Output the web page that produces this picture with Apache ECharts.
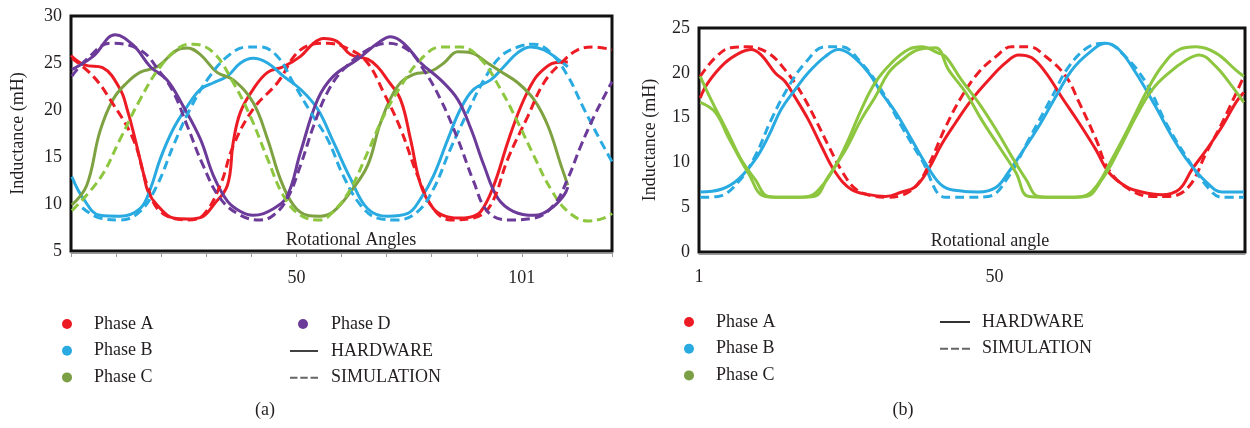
<!DOCTYPE html>
<html>
<head>
<meta charset="utf-8">
<title>Inductance profiles</title>
<script src="https://cdn.jsdelivr.net/npm/echarts@6.0.0/dist/echarts.min.js"></script>
<style>
  html, body { margin: 0; padding: 0; background: #fff; }
  #charts { width: 1250px; height: 428px; }
</style>
</head>
<body>
<div id="charts"></div>
<script>
// ---- panel (a): 4-phase machine, [angle, inductance mH] ----
var xTicksA = [0, 120, 10];               // min, max, interval
var xLabelsA = { 50: '50', 100: '101' };  // tick value -> shown label
var yTicksA = [5, 30, 5];

var phaseA_hw_a = [[0,25.8],[3,24.8],[7,24.5],[10.9,22.2],[12.5,20],[13.8,17.7],[16,13.4],[17.1,11.3],[19.1,9.9],[22.7,8.5],[26,8.4],[29,8.6],[31.6,9.9],[34.7,12],[36,16.6],[37.6,19.8],[40.4,22.2],[43.6,24],[47.1,24.6],[50.9,25.7],[53.8,27.1],[56,27.6],[59,27.3],[62,25.9],[65.8,25.4],[68,24.6],[70.2,23.2],[73.1,21.1],[75.3,16.9],[77.6,12],[80.4,9.5],[83,8.7],[85.8,8.5],[88.5,8.6],[90.9,9.2],[93.8,12],[96.9,16.6],[99.8,20.4],[102.7,23.2],[105,24.4],[107.1,25],[110.2,25.1]];
var phaseA_sim_a = [[0.2,25.5],[4.9,23.6],[8.7,21.1],[13.8,16.9],[16.9,12],[19.8,9.2],[25.8,8.3],[29.3,8.8],[33.1,12],[36,16.2],[40.4,20.1],[45.8,22.9],[50.9,26.4],[56.9,27.1],[62,26.4],[65.8,25],[69.3,21.9],[73.1,18],[76.9,13],[80.4,9.5],[84.2,8.3],[89.3,8.5],[93.1,9.9],[96.9,14.8],[101.3,19.3],[104.9,22.9],[108.7,25],[112.4,26.4],[116,26.7],[120,26.4]];
var phaseB_hw_a = [[0.2,12.9],[2.7,10.6],[6.4,8.8],[10.9,8.7],[15.3,9.5],[17.6,11.6],[19.8,14.8],[22.7,18],[25.8,20.4],[28.7,22.2],[31.6,22.9],[34.7,23.6],[37.6,25],[40.4,25.5],[43.6,25],[47.1,23.6],[50.9,22.2],[54.7,20.1],[58.2,16.6],[62,12.7],[65.8,9.5],[70.2,8.7],[74.7,9],[77.6,10.6],[80.4,13],[83.6,16.9],[86.4,20.1],[89.3,22.2],[93.1,23.2],[96,24.6],[99.1,26.1],[102,26.7],[104.9,26.4],[108,25.4],[110.2,24.6]];
var phaseB_sim_a = [[2.5,9.6],[6.4,8.5],[10.9,8.3],[15.3,9.2],[19.1,12],[22.7,16.2],[26.4,20.1],[30.2,23.2],[34.7,25.7],[39.1,26.7],[42,26.7],[45.8,25.7],[49.3,22.9],[53.1,19.8],[56.9,16.9],[60.4,13],[64.2,9.9],[68,8.5],[72.4,8.3],[76.9,9.2],[80.4,11.6],[84.2,15.9],[88,19.8],[91.6,23.2],[95.3,25.7],[99.1,26.7],[102.7,27],[106.4,26.1],[110.2,23.6],[113.8,20.1],[117.6,16.6],[120,14.5]];
var phaseC_hw_a = [[0.2,9.9],[3.5,12],[6.4,17.7],[9.3,21.1],[12.4,22.9],[15.3,24],[19.1,24.6],[23.6,26.4],[25.8,26.6],[28.7,25.9],[32.4,24],[36,23.2],[40.4,20.8],[43.6,16.9],[46.4,12.7],[49.3,9.9],[52.4,8.8],[55.3,8.7],[58.2,9.2],[62,11.3],[65.8,14.1],[68.7,18.7],[72.4,22.5],[76,23.8],[79.8,24.1],[82.7,25],[85.8,26.2],[88.7,26.1],[92.4,25],[95.3,24.1],[99.1,22.9],[102.7,21.1],[105.8,18.3],[108.7,14.1],[110.2,12]];
var phaseC_sim_a = [[0.2,9.3],[6.4,12.7],[10.9,16.9],[15.3,21.1],[19.8,24.6],[24.2,26.7],[27.1,27],[31.6,26.1],[36,22.9],[39.8,19.3],[43.6,14.8],[47.1,10.9],[50.9,8.8],[55.3,8.3],[58.2,9.2],[62,11.6],[65.8,15.5],[69.3,19.3],[73.1,22.5],[77.6,25.4],[82,26.7],[86.4,26.7],[90.9,25.4],[95.3,22.2],[99.1,18.7],[102.7,15.1],[106.4,11.6],[110.2,9.2],[114.7,8.2],[118.2,8.5],[120,9]];
var phaseD_hw_a = [[0.2,24.3],[4.9,25.7],[9.8,28],[13.8,26.9],[17.6,24.6],[21.3,23.2],[24.9,20.4],[28.7,16.9],[31.6,13],[34.7,10.3],[37.6,9.2],[40.4,8.8],[44.9,9.5],[48,10.9],[50.9,15.5],[54.7,21.1],[58.2,23.6],[63.6,25.4],[68,27.1],[70.9,27.8],[73.8,27.1],[77.6,25],[82,23.2],[85.8,21.1],[88.7,18],[91.6,14.1],[94.7,10.6],[98.2,9.2],[102.7,8.8],[106.4,9.5],[109.3,10.9],[110.2,11.8]];
var phaseD_sim_a = [[0.2,23.6],[3.5,25.4],[8.7,27.1],[15.3,26.4],[19.8,24],[22.7,21.9],[25.8,18.3],[29.3,14.1],[33.1,10.6],[37.6,8.8],[42,8.3],[44.9,8.8],[48,10.6],[50.9,14.1],[53.8,18.3],[56.9,21.9],[60.4,24.3],[65.8,26.4],[70.2,27.1],[74.7,26.4],[78.2,24.3],[82,21.1],[85.8,16.9],[89.3,12.4],[92.4,9.2],[96.9,8.3],[102.7,8.5],[107.1,9.9],[110.2,12.7],[113.1,16.2],[116,19.3],[119.1,22.2],[120,23]];

// ---- panel (b): 3-phase machine ----
var xRangeB = [1, 91.5];
var xLabelsB = [1, 50];
var yTicksB = [0, 25, 5];

var phaseA_hw_b = [[1.2,17.2],[2.5,18.9],[5.3,21.1],[8,22.3],[9.6,22.6],[11.3,22],[13.6,20],[15.3,19],[16.9,17.3],[19.1,14.8],[21.3,11.8],[23.6,8.9],[26.2,7],[29.1,6.4],[31.9,6.2],[34.6,6.7],[36.9,7.3],[39,9.2],[41.2,12],[43.5,14.4],[46.2,17],[49,19.2],[51.8,21.1],[54,22],[56.1,21.7],[58.5,20],[61.1,17.3],[64,14.4],[66.8,11.4],[68.9,8.9],[71.8,7.3],[74.4,6.7],[77.7,6.4],[80.6,7],[82.7,9.2],[85.1,11.4],[87.7,14],[90,16.7],[91.3,17.8]];
var phaseA_sim_b = [[1.2,19.6],[3.7,21.7],[6.3,22.8],[9.1,22.9],[12.5,22.2],[15.3,20.3],[17.9,17.8],[20.3,14.8],[22.5,11.8],[24.8,8.9],[27,7],[29.5,6.3],[32,6.1],[34.5,6.3],[37,7.4],[39,9.6],[41.9,14],[44.5,17.3],[47.3,20],[50.2,21.8],[52.8,22.9],[55.7,22.9],[58.5,21.8],[61.8,19.6],[64,16.7],[66.8,12.6],[68.9,9.2],[72.3,7],[76.1,6.2],[78.9,6.2],[82.2,7.3],[85.1,11.1],[87.7,14.4],[91.3,19.6]];
var phaseB_hw_b = [[1.2,6.7],[4.7,7],[7.5,8.1],[10.3,10.3],[12.5,12.9],[14.6,15.9],[16.9,18.1],[19.1,20],[21.9,21.8],[24.1,22.6],[26.2,22],[29.1,20],[31.2,17.8],[33.6,15.6],[36.2,12.6],[39,9.4],[41.5,7.3],[44.5,6.8],[47.3,6.7],[50.2,7.2],[52.3,8.9],[54.5,11.1],[57.3,14],[60.1,17.3],[62.8,20.3],[65.6,22.2],[68.4,23.3],[70.6,22.6],[73.4,20],[76.7,16.2],[79.4,12.9],[82.2,10],[85.1,7.8],[87.7,6.7],[91.3,6.7]];
var phaseB_sim_b = [[1.2,6.1],[4.2,6.2],[7.5,7.8],[10.3,10.7],[13,14.8],[15.8,18.4],[18.6,21.1],[21.9,22.9],[24.6,22.9],[27.9,21.1],[31.2,18.1],[34.6,14],[37.9,10.3],[41.9,6.1],[45.7,6.1],[49,6.2],[52.3,8.4],[55.7,12.6],[59.5,17.3],[62.3,20.7],[65.6,22.9],[68.4,23.3],[71.1,22.2],[75.1,18.9],[78.4,14.4],[81.7,10.7],[85.6,7],[87.7,6.1],[91.3,6.1]];
var phaseC_hw_b = [[1.2,16.7],[3.7,15.6],[5.8,12.9],[9.1,8.9],[12,6.2],[16,6.1],[20,6.2],[22.4,8.4],[25.3,11.4],[27.9,14.8],[30.2,17.3],[32.4,20],[34.6,21.4],[37.4,22.6],[40.2,22.8],[42.4,20.3],[45.2,17.8],[47.8,14.8],[50.7,11.8],[53.5,8.9],[55.7,6.2],[61.1,6.1],[65.1,6.2],[67.8,8.1],[70.6,11.4],[73.4,15.1],[76.1,18.1],[78.9,20],[81.7,21.4],[83.9,22],[86.7,20.7],[88.9,18.9],[91.3,16.7]];
var phaseC_sim_b = [[1.2,19.6],[3,17],[5.8,13.3],[8,10.3],[10.3,8.1],[12.5,6.2],[15.8,6.1],[19.1,6.2],[21.3,7.3],[23.6,9.6],[25.8,12.6],[27.9,15.9],[30.2,18.9],[32.9,21.1],[35.7,22.6],[37.9,22.9],[40.7,22.2],[41.9,21.8],[44.5,19.2],[47.3,16.7],[50.2,13.7],[52.8,10.7],[55.2,8.1],[57.3,6.2],[61.1,6.1],[64.5,6.2],[66.8,7.3],[69.4,10.3],[72.3,14],[75.1,17.8],[77.7,20.7],[80.6,22.6],[83.4,22.9],[86.7,22.2],[90,20.3],[91.3,19.6]];

var FONT = '"Liberation Serif", "DejaVu Serif", serif';
var TXT = '#231f20';
var RED = '#ed1c24', BLUE = '#29abe2', PURPLE = '#6c3a99';
var OLIVE = '#7ea241', LIME = '#8dc63f';

var ICON_SOLID = 'path://M0,0h30v2h-30z';
var ICON_DASH = 'path://M0,0h8v2h-8zM11,0h8v2h-8zM22,0h8v2h-8z';

// one curve
function curve(name, data, color, dashed, idx){
	return {
		name: name,
		type: 'line',
		xAxisIndex: idx,
		yAxisIndex: idx,
		data: data,
		smooth: 0.4,
		showSymbol: false,
		silent: true,
		lineStyle: { color: color, width: 3, type: dashed ? [9, 5] : 'solid' },
		itemStyle: { color: color }
	};
}

function yAxisCfg(idx, t){
	return {
		gridIndex: idx, type: 'value', min: t[0], max: t[1], interval: t[2],
		name: 'Inductance (mH)', nameLocation: 'middle', nameGap: idx === 0 ? 44 : 40,
		nameTextStyle: { fontFamily: FONT, fontSize: 18, color: TXT },
		axisLine: { show: false }, axisTick: { show: false }, splitLine: { show: false },
		axisLabel: { margin: 9, fontFamily: FONT, fontSize: 18, color: TXT }
	};
}

var legendText = { fontFamily: FONT, fontSize: 18, color: TXT, lineHeight: 18 };
function legendBox(left, top, items, w, h, pad){
	return {
		orient: 'vertical', left: left, top: top, padding: 0,
		itemWidth: w, itemHeight: h, itemGap: 8.7, selectedMode: false,
		textStyle: Object.assign({ padding: [0, 0, 0, pad] }, legendText),
		data: items
	};
}
function dot(name, color){ return { name: name, icon: 'circle', itemStyle: { color: color, borderWidth: 0 } }; }
function lineItem(name, icon, color){ return { name: name, icon: icon, itemStyle: { color: color, borderWidth: 0 } }; }

var charts = echarts.init(document.getElementById('charts'), null, { renderer: 'canvas' });

var option = {
	animation: false,
	backgroundColor: '#fff',
	grid: [
		{ left: 71, top: 16, width: 541, height: 235, show: true, borderColor: '#111', borderWidth: 3, backgroundColor: '#fff' },
		{ left: 699, top: 28, width: 546, height: 224, show: true, borderColor: '#111', borderWidth: 3, backgroundColor: '#fff' }
	],
	xAxis: [
		{
			gridIndex: 0, type: 'value', min: xTicksA[0], max: xTicksA[1], interval: xTicksA[2],
			offset: 2,
			axisLine: { show: true, onZero: false, lineStyle: { color: '#9a9a9a', width: 1 } },
			axisTick: { show: true, length: 4, lineStyle: { color: '#9a9a9a' } },
			splitLine: { show: false },
			axisLabel: {
				margin: 16, fontFamily: FONT, fontSize: 18, color: TXT, showMinLabel: true, showMaxLabel: true,
				formatter: function (v) { return xLabelsA[v] || ''; }
			}
		},
		{
			gridIndex: 1, type: 'value', min: xRangeB[0], max: xRangeB[1],
			offset: 2,
			axisLine: { show: true, onZero: false, lineStyle: { color: '#9a9a9a', width: 1 } },
			axisTick: { show: false },
			splitLine: { show: false },
			axisLabel: { margin: 14, fontFamily: FONT, fontSize: 18, color: TXT, customValues: xLabelsB }
		}
	],
	yAxis: [yAxisCfg(0, yTicksA), yAxisCfg(1, yTicksB)],
	legend: [
		legendBox(62, 315, [dot('Phase A', RED), dot('Phase B', BLUE), dot('Phase C', '#7a9f45')], 10, 10, 17),
		legendBox(298, 315, [dot('Phase D', PURPLE)], 10, 10, 18),
		legendBox(290, 342, [lineItem('HARDWARE', ICON_SOLID, '#333'), lineItem('SIMULATION', ICON_DASH, '#666')], 28, 2, 8),
		legendBox(684, 313, [dot('Phase A', RED), dot('Phase B', BLUE), dot('Phase C', '#7a9f45')], 10, 10, 17),
		legendBox(940, 313, [lineItem('HARDWARE', ICON_SOLID, '#333'), lineItem('SIMULATION', ICON_DASH, '#666')], 30, 2, 7)
	],
	graphic: [
		{ type: 'text', x: 351, y: 240, z: 100, style: { text: 'Rotational Angles', font: '18px ' + FONT, fill: TXT, align: 'center', verticalAlign: 'middle' } },
		{ type: 'text', x: 990, y: 241, z: 100, style: { text: 'Rotational angle', font: '18px ' + FONT, fill: TXT, align: 'center', verticalAlign: 'middle' } },
		{ type: 'text', x: 265, y: 410, style: { text: '(a)', font: '18px ' + FONT, fill: TXT, align: 'center', verticalAlign: 'middle' } },
		{ type: 'text', x: 903, y: 410, style: { text: '(b)', font: '18px ' + FONT, fill: TXT, align: 'center', verticalAlign: 'middle' } }
	],
	series: [
		curve('Phase A', phaseA_hw_a, RED, false, 0),
		curve('Phase B', phaseB_hw_a, BLUE, false, 0),
		curve('Phase C', phaseC_hw_a, OLIVE, false, 0),
		curve('Phase D', phaseD_hw_a, PURPLE, false, 0),
		curve('Phase A', phaseA_sim_a, RED, true, 0),
		curve('Phase B', phaseB_sim_a, BLUE, true, 0),
		curve('Phase C', phaseC_sim_a, LIME, true, 0),
		curve('Phase D', phaseD_sim_a, PURPLE, true, 0),
		curve('Phase A', phaseA_sim_b, RED, true, 1),
		curve('Phase B', phaseB_sim_b, BLUE, true, 1),
		curve('Phase A', phaseA_hw_b, RED, false, 1),
		curve('Phase B', phaseB_hw_b, BLUE, false, 1),
		//green simulation in (b) is drawn solid in the original figure
		curve('Phase C', phaseC_sim_b, LIME, false, 1),
		curve('Phase C', phaseC_hw_b, LIME, false, 1),
		// legend-only entries
		{ name: 'HARDWARE', type: 'line', data: [], itemStyle: { color: '#333' } },
		{ name: 'SIMULATION', type: 'line', data: [], itemStyle: { color: '#666' } }
	]
};
charts.setOption(option);
</script>
</body>
</html>
